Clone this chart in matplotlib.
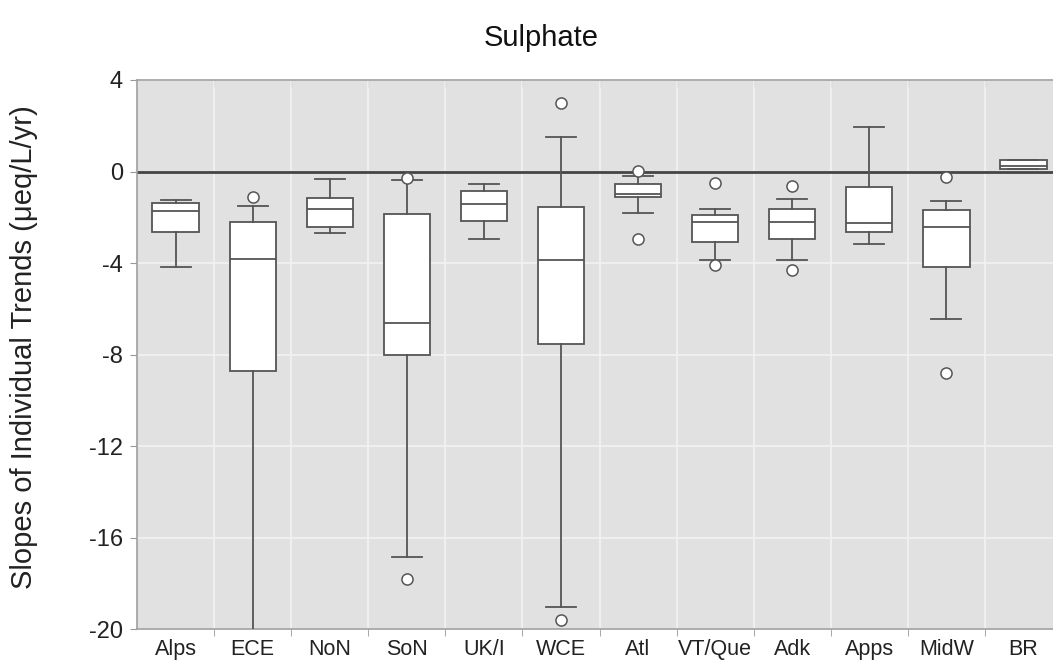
import matplotlib
matplotlib.use("Agg")
import matplotlib.pyplot as plt
import numpy as np

plt.rcParams['font.family'] = ['Liberation Sans', 'DejaVu Sans']

# datos
regiones = ["Alps", "ECE", "NoN", "SoN", "UK/I", "WCE", "Atl", "VT/Que", "Adk", "Apps", "MidW", "BR"]
q1 = [-2.65, -8.70, -2.43, -8.00, -2.17, -7.53, -1.11, -3.07, -2.97, -2.65, -4.17, 0.12]
mediana = [-1.73, -3.82, -1.66, -6.62, -1.44, -3.86, -0.98, -2.20, -2.20, -2.24, -2.42, 0.25]
q3 = [-1.37, -2.19, -1.15, -1.85, -0.86, -1.56, -0.54, -1.88, -1.63, -0.69, -1.69, 0.52]
bigote_bajo = [-4.18, -20.6, -2.68, -16.86, -2.94, -19.05, -1.81, -3.89, -3.88, -3.19, -6.44, 0.12]
bigote_alto = [-1.25, -1.52, -0.32, -0.38, -0.54, 1.52, -0.20, -1.62, -1.19, 1.95, -1.30, 0.52]
atipicos = [[], [-1.11], [], [-0.28, -17.8], [], [3.0, -19.6],
            [0.04, -2.97], [-0.52, -4.07], [-0.64, -4.31], [], [-0.23, -8.83], []]

stats = []
for i in range(len(regiones)):
    stats.append({"label": regiones[i], "q1": q1[i], "med": mediana[i], "q3": q3[i],
                  "whislo": bigote_bajo[i], "whishi": bigote_alto[i],
                  "fliers": atipicos[i]})

fig = plt.figure(figsize=(10.53, 6.64), dpi=100)
ax = fig.add_axes([137/1053, 1 - 629/664, (1062 - 137)/1053, (629 - 80)/664])
ax.set_facecolor("#e1e1e1")

gris = "#555555"
pos = np.arange(1, len(regiones) + 1)
ax.bxp(stats, positions=pos, widths=0.6, capwidths=0.39, patch_artist=True,
       boxprops=dict(facecolor="white", edgecolor=gris, linewidth=1.3),
       medianprops=dict(color=gris, linewidth=1.3),
       whiskerprops=dict(color=gris, linewidth=1.3),
       capprops=dict(color=gris, linewidth=1.3),
       flierprops=dict(marker="o", markerfacecolor="white", markeredgecolor=gris,
                       markersize=8, markeredgewidth=1.1),
       zorder=3)

ax.axhline(0, color="#444444", linewidth=2, zorder=2)

ax.set_xlim(0.5, len(regiones) + 0.5)
ax.set_ylim(-20, 4)
ax.set_yticks([4, 0, -4, -8, -12, -16, -20])
ax.set_yticklabels(["4", "0", "-4", "-8", "-12", "-16", "-20"])
ax.set_xticks(pos)
ax.set_xticklabels(regiones)
ax.set_xticks(np.arange(1.5, len(regiones), 1), minor=True)

ax.grid(True, axis="y", color="#f2f2f2", linewidth=1.2, zorder=0)
ax.grid(True, axis="x", which="minor", color="#f2f2f2", linewidth=1.2, zorder=0)
ax.set_axisbelow(True)

ax.tick_params(axis="x", which="major", length=0, labelsize=15.5, pad=7, colors="#222222")
ax.tick_params(axis="x", which="minor", length=5, color="#999999", direction="out")
ax.tick_params(axis="y", length=5, color="#999999", labelsize=17, pad=5, labelcolor="#222222")

# marcas pequenas arriba, hacia dentro
arriba = ax.secondary_xaxis("top")
arriba.set_xticks(np.arange(1.5, len(regiones), 1))
arriba.set_xticklabels([])
arriba.tick_params(length=5, direction="in", color="#999999")
arriba.spines["top"].set_visible(False)

for s in ax.spines.values():
    s.set_color("#a0a0a0")
    s.set_linewidth(1.2)

fig.text(24/1053, 1 - 347/664, "Slopes of Individual Trends (μeq/L/yr)", rotation=90,
         ha="center", va="center", fontsize=21, color="#222222")
fig.text(541/1053, 1 - 38/664, "Sulphate", ha="center", va="center", fontsize=21, color="#111111")

fig.savefig("out.png", dpi=100)
